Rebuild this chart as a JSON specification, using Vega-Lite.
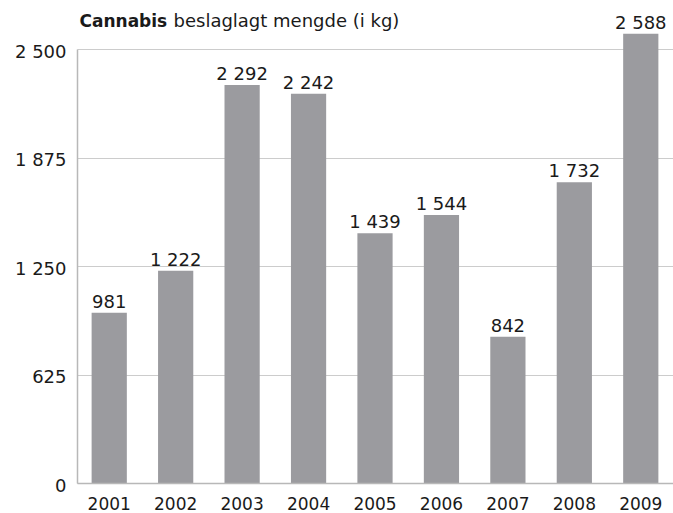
{
  "$schema": "https://vega.github.io/schema/vega-lite/v6.json",
  "width": 596,
  "height": 434,
  "autosize": {"type": "none"},
  "padding": {"left": 77, "top": 49, "right": 0, "bottom": 30},
  "background": "white",
  "config": {
    "view": {"stroke": null},
    "font": "DejaVu Sans",
    "locale": {"number": {"decimal": ",", "thousands": " ", "grouping": [3], "currency": ["", " kr"]}}
  },
  "data": {
    "values": [
      {"year": "2001", "kg": 981},
      {"year": "2002", "kg": 1222},
      {"year": "2003", "kg": 2292},
      {"year": "2004", "kg": 2242},
      {"year": "2005", "kg": 1439},
      {"year": "2006", "kg": 1544},
      {"year": "2007", "kg": 842},
      {"year": "2008", "kg": 1732},
      {"year": "2009", "kg": 2588}
    ]
  },
  "encoding": {
    "x": {
      "field": "year",
      "type": "ordinal",
      "scale": {"paddingInner": 0.47, "paddingOuter": 0.22},
      "axis": {
        "title": null,
        "labelAngle": 0,
        "domain": true,
        "domainColor": "#b8b8b8",
        "domainWidth": 1.5,
        "ticks": false,
        "tickSize": 0,
        "labelPadding": 26,
        "labelBaseline": "alphabetic",
        "labelFontSize": 17,
        "labelColor": "#1a1a1a",
        "labelFont": "DejaVu Sans",
        "zindex": 1
      }
    }
  },
  "layer": [
    {
      "mark": {"type": "bar", "color": "#9b9b9f"},
      "encoding": {
        "y": {
          "field": "kg",
          "type": "quantitative",
          "scale": {"domain": [0, 2500], "nice": false},
          "axis": {
            "values": [0, 625, 1250, 1875, 2500],
            "format": ",d",
            "grid": true,
            "gridColor": "#cccccc",
            "gridWidth": 1,
            "domain": true,
            "domainColor": "#b8b8b8",
            "domainWidth": 1.5,
            "ticks": false,
            "tickSize": 0,
            "labelPadding": 11,
            "labelOffset": 3,
            "labelFontSize": 18,
            "labelColor": "#1a1a1a",
            "labelFont": "DejaVu Sans",
            "title": "beslaglagt mengde (i kg)",
            "titleAngle": 0,
            "titleAlign": "left",
            "titleBaseline": "alphabetic",
            "titleX": 96,
            "titleY": -23,
            "titleFontWeight": "normal",
            "titleFontSize": 18,
            "titleColor": "#1a1a1a",
            "titleFont": "DejaVu Sans"
          }
        }
      }
    },
    {
      "mark": {"type": "text", "baseline": "alphabetic", "dy": -5, "fontSize": 18, "color": "#1a1a1a", "font": "DejaVu Sans"},
      "encoding": {
        "y": {
          "field": "kg",
          "type": "quantitative",
          "axis": {
            "orient": "left",
            "labels": false,
            "grid": false,
            "domain": false,
            "ticks": false,
            "title": "Cannabis",
            "titleAngle": 0,
            "titleAlign": "left",
            "titleBaseline": "alphabetic",
            "titleX": 2,
            "titleY": -23,
            "titleFontWeight": "bold",
            "titleFontSize": 17,
            "titleColor": "#1a1a1a",
            "titleFont": "DejaVu Sans"
          }
        },
        "text": {"field": "kg", "type": "quantitative", "format": ",d"}
      }
    }
  ],
  "resolve": {"axis": {"y": "independent"}}
}
